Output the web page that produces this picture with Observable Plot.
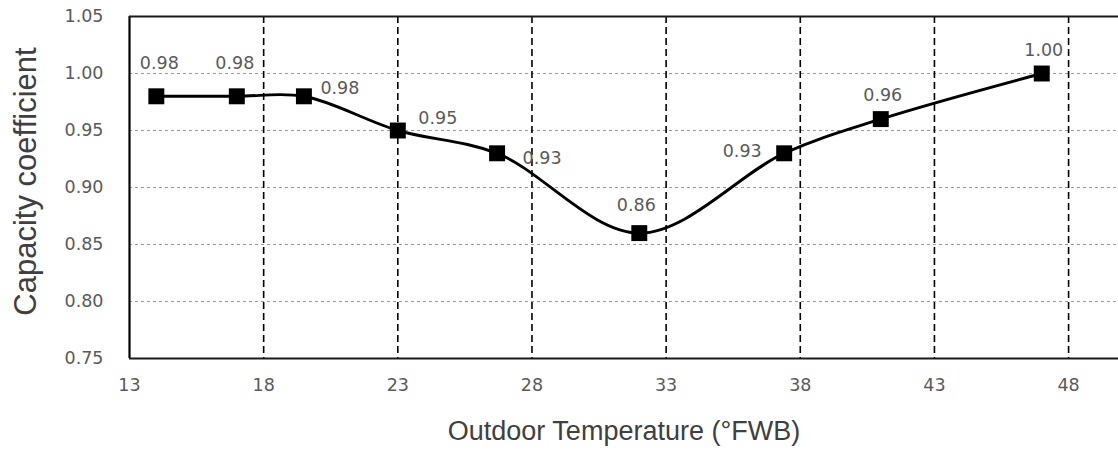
<!DOCTYPE html>
<html><head><meta charset="utf-8">
<script src="https://cdn.jsdelivr.net/npm/d3@7"></script>
<script src="https://cdn.jsdelivr.net/npm/@observablehq/plot@0.6"></script>
<style>body{margin:0;background:#fff} #chart{width:1118px;height:450px;overflow:hidden}</style>
</head><body><div id="chart"></div>
<script>
const temperatures = [14, 17, 19.5, 23, 26.7, 32, 37.4, 41, 47];
const coefficients = [0.98, 0.98, 0.98, 0.95, 0.93, 0.86, 0.93, 0.96, 1.00];
const valueLabels = ["0.98", "0.98", "0.98", "0.95", "0.93", "0.86", "0.93", "0.96", "1.00"];
const xTicks = [13, 18, 23, 28, 33, 38, 43, 48];
const yTicks = [0.75, 0.80, 0.85, 0.90, 0.95, 1.00, 1.05];
const xTitle = "Outdoor Temperature (°FWB)";
const yTitle = "Capacity coefficient";

const data = temperatures.map((t, i) => ({t, c: coefficients[i], label: valueLabels[i], i}));

// label placement offsets (layout only)
const labelOffsets = [[3,-33],[-2,-33],[36,-8],[40,-12],[45,5],[-3,-28],[-42,-2],[2,-24],[2,-23]];

const tickFont = "DejaVu Sans, Verdana, sans-serif";
const titleFont = "Liberation Sans, Arial, sans-serif";

const chart = Plot.plot({
  width: 1118,
  height: 450,
  marginLeft: 129,
  marginRight: 0,
  marginTop: 16,
  marginBottom: 92,
  style: {fontFamily: tickFont, fontSize: "17.5px", color: "#5a5a5a", background: "#fff", overflow: "hidden"},
  x: {domain: [13, 49.86], ticks: xTicks, tickSize: 0, tickPadding: 20, tickFormat: d => String(d), label: null},
  y: {domain: [0.75, 1.05], ticks: yTicks, tickSize: 0, tickPadding: 26, tickFormat: d3.format(".2f"), label: null},
  marks: [
    Plot.ruleY(yTicks.filter(v => v > 0.75 && v < 1.05), {stroke: "#9a9a9a", strokeDasharray: "3,3", strokeWidth: 1}),
    Plot.ruleX(xTicks.filter(v => v > 13), {stroke: "#000", strokeDasharray: "7,4", strokeWidth: 1.6}),
    Plot.ruleX([13], {stroke: "#000", strokeWidth: 2.2}),
    Plot.ruleY([0.75, 1.05], {stroke: "#1a1a1a", strokeWidth: 2.2}),
    Plot.line(data, {x: "t", y: "c", curve: "catmull-rom", stroke: "#000", strokeWidth: 2.9}),
    Plot.dot(data, {x: "t", y: "c", symbol: "square", r: 9, fill: "#000", stroke: "none"}),
    ...labelOffsets.map(([dx, dy], i) => Plot.text(data, {
      filter: d => d.i === i, x: "t", y: "c", text: "label", dx, dy,
      fontSize: 17.5, fontFamily: tickFont, fill: "#5a5a5a"
    })),
    Plot.text([yTitle], {text: d => d, frameAnchor: "left", textAnchor: "middle", rotate: -90, dx: -103, dy: -6,
      fontSize: 31, fontFamily: titleFont, fill: "#404040"}),
    Plot.text([xTitle], {text: d => d, frameAnchor: "bottom", textAnchor: "middle", dy: 73, lineAnchor: "middle",
      fontSize: 27, fontFamily: titleFont, fill: "#404040"})
  ]
});
document.getElementById("chart").appendChild(chart);
</script>
</body></html>
